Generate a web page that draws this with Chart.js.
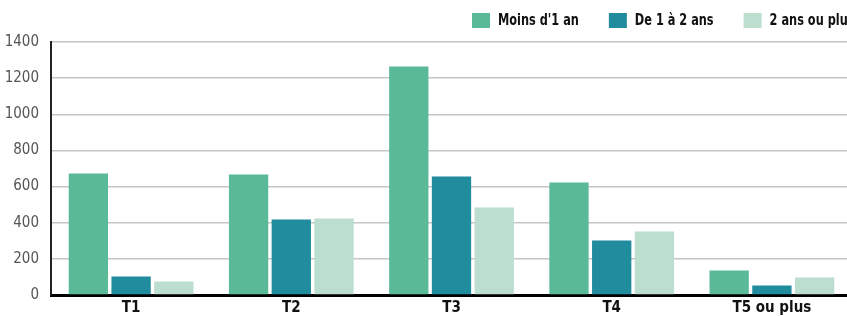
<!DOCTYPE html>
<html lang="fr">
<head>
    <meta charset="UTF-8">
    <title>Logements par taille et ancienneté</title>
    <script src="https://cdn.jsdelivr.net/npm/chart.js"></script>
    <style>
        body { margin: 0; overflow: hidden; background: #fff; }
        .chart-box { width: 852px; height: 316px; position: relative; }
    </style>
</head>
<body>
    <div class="chart-box">
        <canvas id="ancienneteChart"></canvas>
    </div>

    <script>
        const categories = ["T1", "T2", "T3", "T4", "T5 ou plus"];
        const moinsUnAn = [673, 667, 1265, 623, 136];
        const unADeuxAns = [102, 418, 656, 302, 53];
        const deuxAnsOuPlus = [75, 424, 484, 352, 97];
        const yTicks = [0, 200, 400, 600, 800, 1000, 1200, 1400];

        const FONT = "'DejaVu Sans Condensed', 'Liberation Sans Narrow', 'Roboto', sans-serif";

        // legend drawn by hand so the spacing matches the original
        // (text squeezed a bit, the original font is narrower than DejaVu Condensed)
        const topLegend = {
            id: "topLegend",
            afterDraw(chart) {
                const ctx = chart.ctx;
                const squeeze = 0.84;
                ctx.save();
                ctx.font = "bold 15px " + FONT;
                ctx.textBaseline = "middle";
                let x = 472;
                chart.data.datasets.forEach(ds => {
                    ctx.fillStyle = ds.backgroundColor;
                    ctx.fillRect(x, 13, 18, 15);
                    ctx.fillStyle = "#111";
                    ctx.save();
                    ctx.translate(x + 26, 21);
                    ctx.scale(squeeze, 1);
                    ctx.fillText(ds.label, 0, 0);
                    ctx.restore();
                    x += 26 + ctx.measureText(ds.label).width * squeeze + 30;
                });
                ctx.restore();
            }
        };

        const ctx = document.getElementById("ancienneteChart").getContext("2d");
        new Chart(ctx, {
            type: "bar",
            data: {
                labels: categories,
                datasets: [
                    { label: "Moins d'1 an", data: moinsUnAn, backgroundColor: "#5aba98" },
                    { label: "De 1 à 2 ans", data: unADeuxAns, backgroundColor: "#218c9e" },
                    { label: "2 ans ou plus", data: deuxAnsOuPlus, backgroundColor: "#bbdece" }
                ]
            },
            options: {
                responsive: true,
                maintainAspectRatio: false,
                animation: false,
                layout: { padding: { top: 42, right: 0, left: 0, bottom: 0 } },
                datasets: { bar: { categoryPercentage: 0.8, barPercentage: 0.92 } },
                plugins: {
                    legend: { display: false },
                    tooltip: { enabled: false }
                },
                scales: {
                    x: {
                        grid: { display: false, drawTicks: false },
                        border: { color: "#000", width: 3 },
                        ticks: {
                            color: "#111",
                            padding: 4,
                            font: { family: FONT, size: 15, weight: "bold" }
                        },
                        afterFit: s => { s.height = 20; }
                    },
                    y: {
                        min: 0,
                        max: 1400,
                        afterBuildTicks: s => { s.ticks = yTicks.map(v => ({ value: v })); },
                        grid: {
                            drawTicks: false,
                            lineWidth: 1.5,
                            color: c => (c.tick && c.tick.value === 0) ? "rgba(0,0,0,0)" : "#c6c6c6"
                        },
                        border: { color: "#222", width: 2 },
                        ticks: {
                            color: "#555",
                            padding: 12,
                            callback: v => String(v),
                            font: { family: FONT, size: 15 }
                        },
                        afterFit: s => { s.width = 51; }
                    }
                }
            },
            plugins: [topLegend]
        });
    </script>
</body>
</html>
